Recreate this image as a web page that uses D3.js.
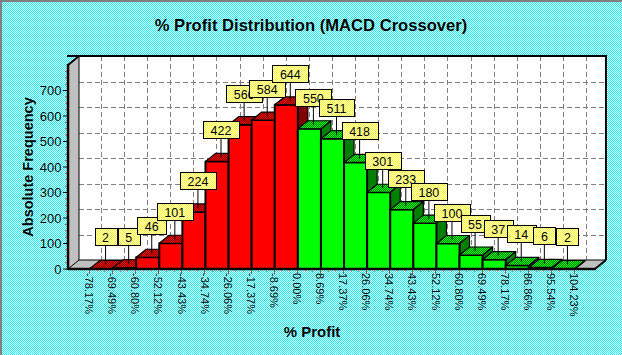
<!DOCTYPE html>
<html>
<head>
<meta charset="utf-8">
<script src="https://cdn.jsdelivr.net/npm/d3@7/dist/d3.min.js"></script>
<style>
html,body{margin:0;padding:0;background:#fff;}
svg{display:block;}
text{font-family:"Liberation Sans",Arial,sans-serif;}
</style>
</head>
<body>
<svg id="chart" width="622" height="355"></svg>
<script>
// ---- data ----
const binEdges = ["-78.17%","-69.49%","-60.80%","-52.12%","-43.43%","-34.74%","-26.06%","-17.37%","-8.69%","0.00%","8.69%","17.37%","26.06%","34.74%","43.43%","52.12%","60.80%","69.49%","78.17%","86.86%","95.54%","104.23%"];
const frequencies = [2,5,46,101,224,422,566,584,644,550,511,418,301,233,180,100,55,37,14,6,2];
const yTicks = [0,100,200,300,400,500,600,700];
const yGrid = [100,200,300,400,500,600,700,800];
const titleText = "% Profit Distribution (MACD Crossover)";
const yTitle = "Absolute Frequency";
const xTitle = "% Profit";

// ---- layout ----
const W = 622, H = 355;
const X0 = 68, X1 = 595, YB = 269, YT = 65;
const DX = 11, DY = 9;      // wall depth
const BDX = 10, BDY = 8;    // bar depth

const svg = d3.select("#chart");
const defs = svg.append("defs");
function checker(id, c1, c2){
  const p = defs.append("pattern").attr("id", id).attr("width", 2).attr("height", 2)
    .attr("patternUnits", "userSpaceOnUse");
  p.append("rect").attr("width", 2).attr("height", 2).attr("fill", c2);
  p.append("rect").attr("width", 1).attr("height", 1).attr("fill", c1);
  p.append("rect").attr("x", 1).attr("y", 1).attr("width", 1).attr("height", 1).attr("fill", c1);
}
checker("bg", "#00ffff", "#ffffff");
checker("yel", "#ffff00", "#ffffff");
checker("redTop", "#ff0000", "#800000");
checker("greenTop", "#00ff00", "#008000");

const x = d3.scaleLinear().domain([0, binEdges.length - 1]).range([90, 575]);
const y = d3.scaleLinear().domain([0, 800]).range([YB, YT]);

// background
svg.append("rect").attr("width", W).attr("height", H).attr("fill", "url(#bg)");
svg.append("rect").attr("x", 0).attr("y", 0).attr("width", W).attr("height", 2).attr("fill", "#808080");
svg.append("rect").attr("x", 0).attr("y", 0).attr("width", 2).attr("height", H).attr("fill", "#808080");

// title
svg.append("text").attr("x", 311).attr("y", 31).attr("text-anchor", "middle")
  .attr("font-weight", "bold").attr("font-size", 16.6).text(titleText);

// walls
svg.append("rect").attr("x", X0 + DX).attr("y", YT - DY).attr("width", X1 - X0).attr("height", YB - YT)
  .attr("fill", "#ffffff");
svg.append("polygon").attr("points", [[X0, YT], [X0 + DX, YT - DY], [X0 + DX, YB - DY], [X0, YB]].join(" "))
  .attr("fill", "#c0c0c0");
svg.append("polygon").attr("points", [[X0, YB], [X1, YB], [X1 + DX, YB - DY], [X0 + DX, YB - DY]].join(" "))
  .attr("fill", "#c0c0c0");

// grid on back wall
const grid = svg.append("g").attr("stroke", "#808080").attr("stroke-width", 1).attr("stroke-dasharray", "5,3")
  .attr("shape-rendering", "crispEdges");
yGrid.slice(0, -1).forEach(v => {
  grid.append("line").attr("x1", X0 + DX).attr("x2", X1 + DX)
    .attr("y1", Math.round(y(v) - DY) + 0.5).attr("y2", Math.round(y(v) - DY) + 0.5);
});
binEdges.forEach((l, i) => {
  const gx = Math.round(x(i) + DX) + 0.5;
  grid.append("line").attr("x1", gx).attr("x2", gx).attr("y1", YT - DY).attr("y2", YB - DY);
});

// wall outlines
const wo = svg.append("g").attr("stroke", "#000").attr("fill", "none");
wo.append("line").attr("x1", X0 + DX).attr("x2", X0 + DX).attr("y1", YT - DY).attr("y2", YB - DY).attr("stroke-width", 1);
wo.append("line").attr("x1", X0 + DX).attr("x2", X1 + DX).attr("y1", YB - DY).attr("y2", YB - DY).attr("stroke-width", 1);
wo.append("line").attr("x1", X0).attr("x2", X0 + DX).attr("y1", YB).attr("y2", YB - DY).attr("stroke-width", 1);
wo.append("line").attr("x1", X0 - 1).attr("x2", X1 + DX + 1).attr("y1", YT - DY).attr("y2", YT - DY).attr("stroke-width", 2);
wo.append("line").attr("x1", X1 + DX).attr("x2", X1 + DX).attr("y1", YT - DY).attr("y2", YB - DY).attr("stroke-width", 2);
wo.append("line").attr("x1", X0).attr("x2", X0 + DX).attr("y1", YT).attr("y2", YT - DY).attr("stroke-width", 2);
wo.append("line").attr("x1", X1).attr("x2", X1 + DX).attr("y1", YB).attr("y2", YB - DY).attr("stroke-width", 2);

// bars
const bars = svg.append("g");
frequencies.forEach((v, i) => {
  const neg = i < 9;
  const xl = x(i), xr = x(i + 1), yt = y(v);
  const g = bars.append("g").attr("stroke", "#000").attr("stroke-linejoin", "round");
  g.append("polygon").attr("points", [[xr, YB], [xr, yt], [xr + BDX, yt - BDY], [xr + BDX, YB - BDY]].join(" "))
    .attr("fill", neg ? "#800000" : "#008000").attr("stroke-width", 1.2);
  g.append("rect").attr("x", xl).attr("y", yt).attr("width", xr - xl).attr("height", YB - yt)
    .attr("fill", neg ? "#ff0000" : "#00ff00").attr("stroke-width", 2);
  g.append("polygon").attr("points", [[xl, yt], [xr, yt], [xr + BDX, yt - BDY], [xl + BDX, yt - BDY]].join(" "))
    .attr("fill", neg ? "url(#redTop)" : "url(#greenTop)").attr("stroke-width", 1.2);
});

// axes lines
svg.append("line").attr("x1", X0).attr("x2", X0).attr("y1", YT - 1).attr("y2", YB + 1)
  .attr("stroke", "#000").attr("stroke-width", 2.5);
svg.append("line").attr("x1", X0).attr("x2", X1 + 1).attr("y1", YB).attr("y2", YB)
  .attr("stroke", "#000").attr("stroke-width", 2.5);

// y ticks & labels
const ya = svg.append("g");
yTicks.forEach(v => {
  ya.append("line").attr("x1", 63).attr("x2", X0).attr("y1", y(v)).attr("y2", y(v))
    .attr("stroke", "#000").attr("stroke-width", 1);
  ya.append("text").attr("x", 61.5).attr("y", y(v)).attr("dy", "0.36em").attr("text-anchor", "end")
    .attr("font-size", 13).attr("fill", "#000").text(v);
});
for (let v = 25; v < 800; v += 25) {
  if (v % 100 === 0) continue;
  ya.append("line").attr("x1", 65).attr("x2", 67).attr("y1", y(v)).attr("y2", y(v))
    .attr("stroke", "#c04040").attr("stroke-width", 1);
}

// x ticks & labels
const xa = svg.append("g");
binEdges.forEach((l, i) => {
  const tx = Math.round(x(i)) - 0.5;
  xa.append("line").attr("x1", tx).attr("x2", tx).attr("y1", YB + 1).attr("y2", YB + 5)
    .attr("stroke", "#a05050").attr("stroke-width", 1);
  if (i < binEdges.length - 1) {
    [1, 2].forEach(k => {
      const mx = Math.round(x(i + k / 3)) - 0.5;
      xa.append("line").attr("x1", mx).attr("x2", mx).attr("y1", YB + 1).attr("y2", YB + 3)
        .attr("stroke", "#c08080").attr("stroke-width", 1);
    });
  }
  xa.append("text").attr("transform", `translate(${x(i) - 1},273) rotate(90)`)
    .attr("dy", "0.35em").attr("font-size", 11).attr("fill", "#000").text(l);
});

// axis titles
svg.append("text").attr("transform", "translate(33,167) rotate(-90)").attr("text-anchor", "middle")
  .attr("font-weight", "bold").attr("font-size", 14.5).text(yTitle);
svg.append("text").attr("x", 312).attr("y", 337).attr("text-anchor", "middle")
  .attr("font-weight", "bold").attr("font-size", 15).text(xTitle);

// data labels
const lab = svg.append("g");
frequencies.forEach((v, i) => {
  const cx = (x(i) + x(i + 1)) / 2 + BDX / 2 - 1;
  const cy = y(v) - BDY / 2;
  const bottom = cy - 19;
  const g = lab.append("g");
  g.append("line").attr("x1", cx).attr("x2", cx).attr("y1", bottom).attr("y2", cy)
    .attr("stroke", "#000").attr("stroke-width", 1);
  const box = g.append("rect");
  const t = g.append("text").attr("x", cx).attr("y", bottom - 3).attr("text-anchor", "middle")
    .attr("font-size", 12.5).attr("fill", "#000").text(v);
  const tw = t.node().getComputedTextLength();
  const bw = Math.round(tw + 15);
  box.attr("x", Math.round(cx - bw / 2) + 0.5).attr("y", Math.round(bottom - 17) + 0.5)
    .attr("width", bw).attr("height", 17).attr("fill", "url(#yel)")
    .attr("stroke", "#000").attr("stroke-width", 1);
});
</script>
</body>
</html>
